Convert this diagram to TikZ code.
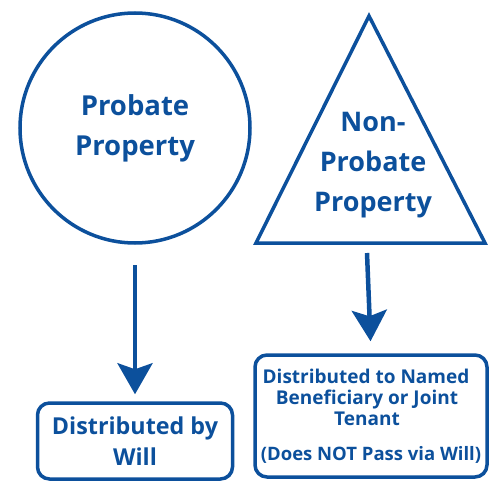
\documentclass[tikz,border=0pt]{standalone}
\usepackage{fontspec}
\setmainfont{Open Sans}
\usetikzlibrary{arrows.meta}
\definecolor{probblue}{RGB}{12,80,156}

\begin{document}
\begin{tikzpicture}[x=1pt, y=-1pt,
  every node/.style={text=probblue, font=\bfseries, align=center},
  outline/.style={draw=probblue, line width=3.5pt},
  outcome/.style={outline, rounded corners=12pt, inner sep=0pt},
  flow/.style={draw=probblue, line width=4.5pt,
    -{Stealth[length=31pt, width=35pt, inset=6pt]}}]
  \useasboundingbox (0, 0) rectangle (489, 481);

  % Probate side
  \node[outline, circle, minimum size=230pt, inner sep=0pt,
        font=\bfseries\fontsize{27.5}{40}\selectfont] (prob) at (135, 128)
    {Probate\\Property};

  % Non-probate side
  \coordinate (apex) at (369, 16);
  \coordinate (baseL) at (256, 243);
  \coordinate (baseR) at (485, 243);
  \draw[outline, line join=miter] (apex) -- (baseL) -- (baseR) -- cycle;
  \node[font=\bfseries\fontsize{27}{40}\selectfont] (nonprob) at (373, 165)
    {Non-\\Probate\\Property};

  % Outcomes
  \node[outcome, minimum width=195pt, minimum height=76pt,
        font=\bfseries\fontsize{23.3}{31}\selectfont] (will) at (135, 441)
    {Distributed by\\Will};
  \node[outcome, minimum width=232pt, minimum height=122pt,
        font=\bfseries\fontsize{19}{21}\selectfont] (named) at (371, 416)
    {\hspace*{-10pt}Distributed to Named\\\hspace*{-8pt}Beneficiary or Joint\\
     \hspace*{-8pt}Tenant\\[14pt]
     {\fontsize{18.5}{21}\selectfont (Does NOT Pass via Will)}};

  % Arrows
  \coordinate (probout) at (135, 265);
  \coordinate (nonout) at (367, 253);
  \draw[flow, shorten >=7pt] (probout) -- (will.north);
  \draw[flow, shorten >=12pt] (nonout) -- (named.north);
\end{tikzpicture}
\end{document}
